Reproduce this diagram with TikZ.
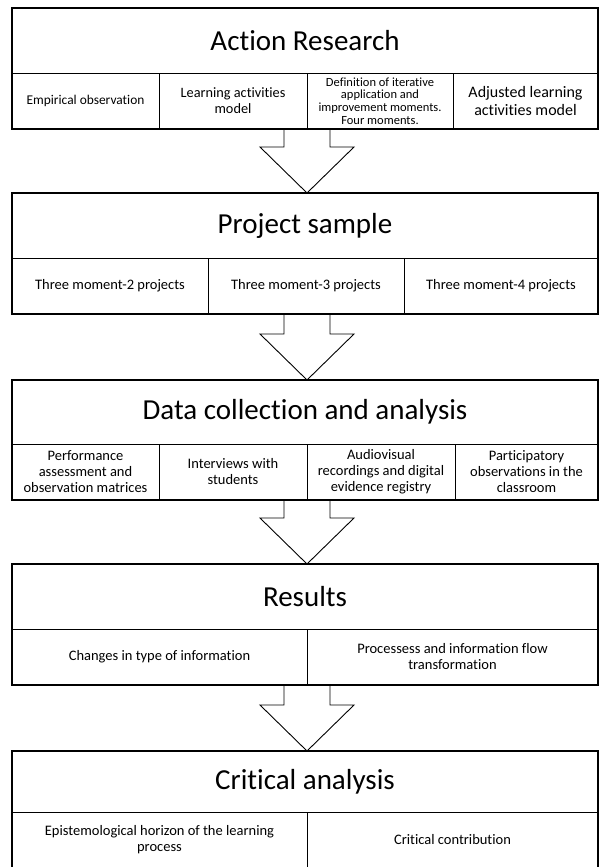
\documentclass[tikz,border=0pt]{standalone}
\usepackage{fontspec}
\setmainfont{Carlito}[Ligatures=NoCommon]
\usetikzlibrary{calc}

\begin{document}
\begin{tikzpicture}[x=1pt,y=-1pt,line join=miter,
	frame/.style={draw,line width=1.5pt},
	title/.style={draw,line width=0.8pt,anchor=north west,inner sep=0pt,outer sep=0pt,minimum width=586pt,font=\fontsize{29}{32}\selectfont},
	cell/.style={draw,line width=0.8pt,anchor=north west,inner sep=0pt,outer sep=0pt,minimum height=56pt,align=center,font=\fontsize{14.5}{16}\selectfont},
	bigarrow/.style={draw,line width=0.9pt}]
	\useasboundingbox (0,0) rectangle (599,867);
	% Action Research
	\node[title,minimum height=65pt] (ar) at (12,8) {Action Research};
	\node[cell,minimum width=147pt,font=\fontsize{13.4}{15}\selectfont] (ar1) at (12,73) {Empirical observation};
	\node[cell,minimum width=148pt,font=\fontsize{14.3}{16}\selectfont] (ar2) at (159,73) {Learning activities\\model};
	\node[cell,minimum width=146pt,font=\fontsize{12.5}{12.7}\selectfont] (ar3) at (307,73) {Definition of iterative\\application and\\improvement moments.\\Four moments.};
	\node[cell,minimum width=145pt,font=\fontsize{16}{18}\selectfont] (ar4) at (453,73) {Adjusted learning\\activities model};
	\draw[frame] (ar.north west) rectangle (ar4.south east);
	% Project sample
	\node[title,minimum height=65pt] (ps) at (12,193) {Project sample};
	\node[cell,minimum width=196pt] (ps1) at (12,258) {Three moment-2 projects};
	\node[cell,minimum width=196pt] (ps2) at (208,258) {Three moment-3 projects};
	\node[cell,minimum width=194pt] (ps3) at (404,258) {Three moment-4 projects};
	\draw[frame] (ps.north west) rectangle (ps3.south east);
	% Data collection and analysis
	\node[title,minimum height=64pt] (dc) at (12,380) {Data collection and analysis};
	\node[cell,minimum width=147pt] (dc1) at (12,444) {Performance\\assessment and\\observation matrices};
	\node[cell,minimum width=148pt] (dc2) at (159,444) {Interviews with\\students};
	\node[cell,minimum width=148pt] (dc3) at (307,444) {Audiovisual\\recordings and digital\\evidence registry};
	\node[cell,minimum width=143pt] (dc4) at (455,444) {Participatory\\observations in the\\classroom};
	\draw[frame] (dc.north west) rectangle (dc4.south east);
	% Results
	\node[title,minimum height=65pt] (rs) at (12,564) {Results};
	\node[cell,minimum width=295pt] (rs1) at (12,629) {Changes in type of information};
	\node[cell,minimum width=291pt] (rs2) at (307,629) {Processess and information flow\\transformation};
	\draw[frame] (rs.north west) rectangle (rs2.south east);
	% Critical analysis
	\node[title,minimum height=61pt] (ca) at (12,751) {Critical analysis};
	\node[cell,minimum width=295pt] (ca1) at (12,812) {Epistemological horizon of the learning\\process};
	\node[cell,minimum width=291pt] (ca2) at (307,812) {Critical contribution};
	\draw[frame] (ca.north west) rectangle (ca2.south east);
	% block arrows
	\coordinate (s1) at (ar3.south west);
	\coordinate (t1) at (ar3.south west |- ps.north);
	\coordinate (s2) at (dc3.north west |- ps1.south);
	\coordinate (t2) at (dc3.north west |- dc.north);
	\coordinate (s3) at (dc3.south west);
	\coordinate (t3) at (dc3.south west |- rs.north);
	\coordinate (s4) at (rs2.south west);
	\coordinate (t4) at (rs2.south west |- ca.north);
	\foreach \i in {1,...,4}
		\draw[bigarrow] ($(s\i)+(-23,0)$) -- ($(t\i)+(-23,-46)$) -- ($(t\i)+(-47,-46)$) -- (t\i)
			-- ($(t\i)+(47,-46)$) -- ($(t\i)+(23,-46)$) -- ($(s\i)+(23,0)$);
\end{tikzpicture}
\end{document}
